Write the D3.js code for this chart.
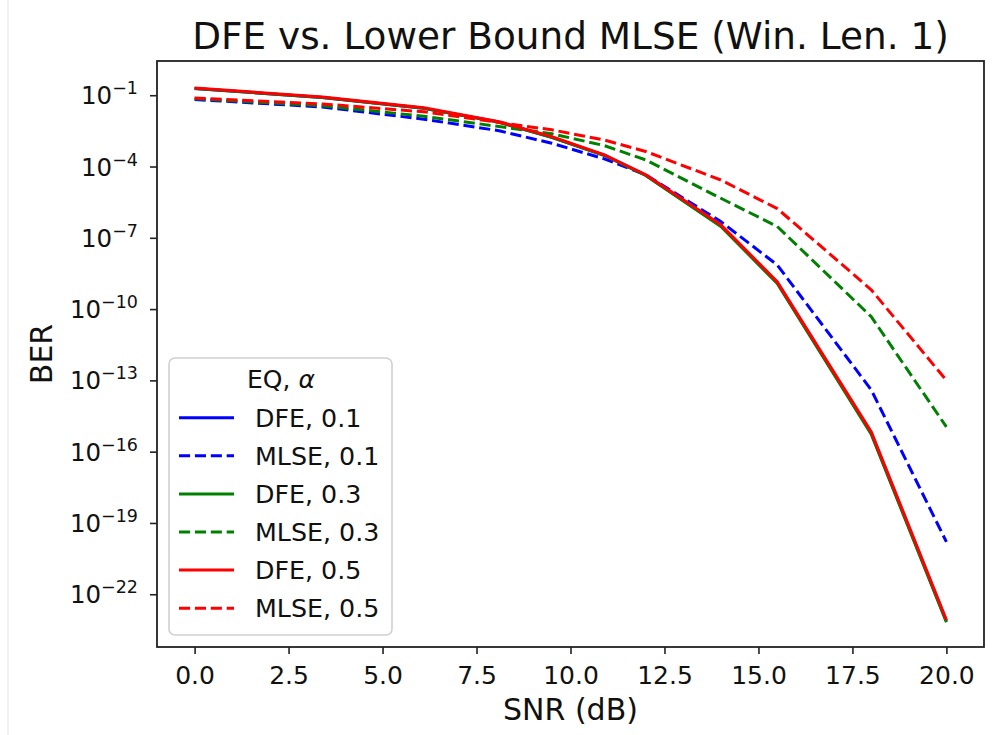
<!DOCTYPE html>
<html lang="en">
<head>
    <meta charset="UTF-8">
    <title>DFE vs. Lower Bound MLSE</title>
    <script src="https://d3js.org/d3.v7.min.js"></script>
    <style>
        body { margin: 0; background: #fff; }
        svg { display: block; font-family: "DejaVu Sans", sans-serif; }
    </style>
</head>
<body>
    <svg width="997" height="735"></svg>
    <script>
        // SNR points (dB)
        var snr = [0, 3.4, 6.1, 8.1, 9.5, 10.9, 12, 14, 15.5, 18, 20];

        // BER values, one array per curve
        var dfe01  = [1.9e-1, 8.1e-2, 2.8e-2, 7.4e-3, 1.7e-3, 3.0e-4, 4.3e-5, 3.2e-7, 1.3e-9, 6.0e-16, 7.4e-24];
        var mlse01 = [6.6e-2, 3.2e-2, 9.8e-3, 3.2e-3, 9.5e-4, 2.1e-4, 4.5e-5, 4.8e-7, 7.2e-9, 4.0e-14, 1.6e-20];
        var dfe03  = [1.9e-1, 8.1e-2, 2.8e-2, 7.2e-3, 1.7e-3, 2.9e-4, 4.2e-5, 3.0e-7, 1.2e-9, 5.4e-16, 6.6e-24];
        var mlse03 = [7.1e-2, 3.6e-2, 1.3e-2, 4.8e-3, 2.4e-3, 7.6e-4, 1.9e-4, 4.6e-6, 3.0e-7, 4.8e-11, 1.1e-15];
        var dfe05  = [2.0e-1, 8.5e-2, 3.0e-2, 7.6e-3, 1.8e-3, 3.1e-4, 4.5e-5, 3.5e-7, 1.4e-9, 6.8e-16, 8.3e-24];
        var mlse05 = [7.6e-2, 4.3e-2, 2.0e-2, 7.1e-3, 3.5e-3, 1.3e-3, 4.3e-4, 2.7e-5, 1.7e-6, 6.5e-10, 1.0e-13];

        var labels = ["DFE, 0.1", "MLSE, 0.1", "DFE, 0.3", "MLSE, 0.3", "DFE, 0.5", "MLSE, 0.5"];
        var xTicks = [0, 2.5, 5, 7.5, 10, 12.5, 15, 17.5, 20];
        var yTickExp = [-1, -4, -7, -10, -13, -16, -19, -22];

        var series = [
            { name: labels[0], values: dfe01,  color: "#0000ff", dashed: false },
            { name: labels[1], values: mlse01, color: "#0000ff", dashed: true },
            { name: labels[2], values: dfe03,  color: "#008000", dashed: false },
            { name: labels[3], values: mlse03, color: "#008000", dashed: true },
            { name: labels[4], values: dfe05,  color: "#ff0000", dashed: false },
            { name: labels[5], values: mlse05, color: "#ff0000", dashed: true }
        ];

        var svg = d3.select("svg");
        // plot box (window.top is read-only, so no plain "top")
        var pLeft = 157, pRight = 984, pTop = 61, pBottom = 647;
        var dash = "11.1,4.8";

        var x = d3.scaleLinear().domain([-1, 21]).range([pLeft, pRight]);
        var y = d3.scaleLog().domain([Math.pow(10, 0.44), Math.pow(10, -24.22)]).range([pTop, pBottom]);

        // faint edge of the screenshot
        svg.append("line")
            .attr("x1", 8).attr("x2", 8).attr("y1", 0).attr("y2", 735)
            .attr("stroke", "#ececec").attr("stroke-width", 1.5);

        // curves
        var line = d3.line()
            .x(function(d, i) { return x(snr[i]); })
            .y(function(d) { return y(d); });

        svg.append("g")
            .selectAll("path")
            .data(series)
            .enter().append("path")
            .attr("d", function(d) { return line(d.values); })
            .attr("fill", "none")
            .attr("stroke", function(d) { return d.color; })
            .attr("stroke-width", 3)
            .attr("stroke-linejoin", "round")
            .attr("stroke-dasharray", function(d) { return d.dashed ? dash : null; });

        // x axis
        var xAxis = svg.append("g")
            .attr("transform", "translate(0," + pBottom + ")")
            .call(d3.axisBottom(x)
                .tickValues(xTicks)
                .tickSize(7)
                .tickPadding(12)
                .tickFormat(d3.format(".1f")));
        xAxis.select(".domain").remove();
        xAxis.selectAll("line").attr("stroke", "#222").attr("stroke-width", 1.6);
        xAxis.selectAll("text").attr("font-size", 25).attr("fill", "#111").style("font-family", "DejaVu Sans");

        // y axis, labels as 10 with superscript
        var yAxis = svg.append("g")
            .attr("transform", "translate(" + pLeft + ",0)")
            .call(d3.axisLeft(y)
                .tickValues(yTickExp.map(function(e) { return Math.pow(10, e); }))
                .tickSize(7)
                .tickFormat(""));
        yAxis.select(".domain").remove();
        yAxis.selectAll("line").attr("stroke", "#222").attr("stroke-width", 1.6);

        var yLab = svg.append("g")
            .selectAll("text")
            .data(yTickExp)
            .enter().append("text")
            .attr("x", 138)
            .attr("y", function(d) { return y(Math.pow(10, d)) + 9; })
            .attr("text-anchor", "end")
            .attr("fill", "#111")
            .attr("font-size", 24.5);
        yLab.append("tspan").text("10");
        yLab.append("tspan")
            .attr("font-size", 17.5)
            .attr("dy", -10)
            .text(function(d) { return "\u2212" + Math.abs(d); });

        // frame
        svg.append("rect")
            .attr("x", pLeft).attr("y", pTop)
            .attr("width", pRight - pLeft).attr("height", pBottom - pTop)
            .attr("fill", "none").attr("stroke", "#222").attr("stroke-width", 1.8);

        // title and axis labels
        svg.append("text")
            .attr("x", (pLeft + pRight) / 2).attr("y", 49)
            .attr("text-anchor", "middle").attr("font-size", 37.4).attr("fill", "#111")
            .text("DFE vs. Lower Bound MLSE (Win. Len. 1)");

        svg.append("text")
            .attr("x", (pLeft + pRight) / 2).attr("y", 720)
            .attr("text-anchor", "middle").attr("font-size", 30).attr("fill", "#111")
            .text("SNR (dB)");

        svg.append("text")
            .attr("transform", "translate(52," + ((pTop + pBottom) / 2) + ") rotate(-90)")
            .attr("text-anchor", "middle").attr("font-size", 30).attr("fill", "#111")
            .text("BER");

        // legend
        var lg = svg.append("g").attr("transform", "translate(169,358)");
        lg.append("rect")
            .attr("width", 223).attr("height", 277)
            .attr("rx", 6).attr("ry", 6)
            .attr("fill", "#fff").attr("fill-opacity", 0.8)
            .attr("stroke", "#d0d0d0").attr("stroke-width", 1.6);

        var lgTitle = lg.append("text")
            .attr("x", 112).attr("y", 30)
            .attr("text-anchor", "middle").attr("font-size", 25).attr("fill", "#111");
        lgTitle.append("tspan").text("EQ, ");
        lgTitle.append("tspan").attr("font-style", "italic").text("\u03b1");

        var rows = lg.selectAll("g.row")
            .data(series)
            .enter().append("g")
            .attr("class", "row")
            .attr("transform", function(d, i) { return "translate(0," + (59.7 + i * 38.1) + ")"; });

        rows.append("line")
            .attr("x1", 10).attr("x2", 65)
            .attr("stroke", function(d) { return d.color; })
            .attr("stroke-width", 3)
            .attr("stroke-dasharray", function(d) { return d.dashed ? dash : null; });

        rows.append("text")
            .attr("x", 86).attr("y", 9)
            .attr("font-size", 25.3).attr("fill", "#111")
            .text(function(d) { return d.name; });
    </script>
</body>
</html>
